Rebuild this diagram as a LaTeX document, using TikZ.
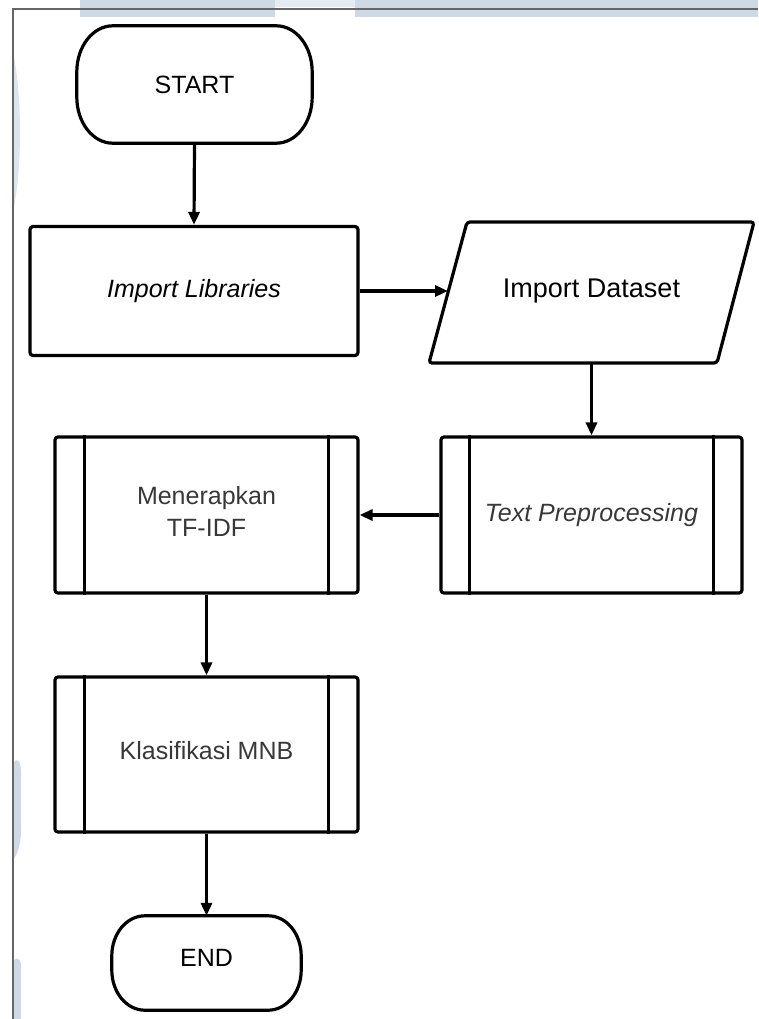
\documentclass[tikz,border=0pt]{standalone}
\usepackage{fontspec}
\setmainfont{Liberation Sans}
\usetikzlibrary{arrows.meta,calc}
\definecolor{wm}{HTML}{CDD9E5}
\definecolor{wmlight}{HTML}{E4EBF2}
\definecolor{txtgray}{HTML}{383838}
\newcommand{\termshape}[3]{% node, x radius, y radius
  \draw[lw] ([xshift=#2]#1.north west) -- ([xshift=-#2]#1.north east)
    arc[start angle=90, end angle=0, x radius=#2, y radius=#3]
    -- ([yshift=#3]#1.south east)
    arc[start angle=0, end angle=-90, x radius=#2, y radius=#3]
    -- ([xshift=#2]#1.south west)
    arc[start angle=270, end angle=180, x radius=#2, y radius=#3]
    -- ([yshift=-#3]#1.north west)
    arc[start angle=180, end angle=90, x radius=#2, y radius=#3] -- cycle;}
\begin{document}
\begin{tikzpicture}[x=1pt,y=-1pt,
  lw/.style={line width=3.2pt},
  proc/.style={draw=black, lw, rounded corners=3pt, inner sep=0pt, align=center,
    font=\fontsize{25}{32}\selectfont},
  lbl/.style={inner sep=0pt, align=center, font=\fontsize{25}{32}\selectfont},
  arr/.style={lw, -{Triangle[length=13pt,width=11pt]}},
  frameline/.style={draw=black!60, line width=1.2pt}]
\useasboundingbox (0,0) rectangle (758,1019);
% watermark background
\fill[wm] (80,0) rectangle (275,17);
\fill[wm] (355,0) rectangle (758,17);
\fill[wmlight] (275,0) rectangle (355,7);
\fill[wm!70] (14,57) .. controls (22,100) and (22,165) .. (14,207) -- cycle;
\fill[wm] (13,860) -- (13,768) .. controls (13,757) and (21,757) .. (21,772)
  -- (21,830) .. controls (21,845) and (17,855) .. (13,860) -- cycle;
\fill[wm] (13,1019) -- (13,966) .. controls (13,956) and (21,956) .. (21,966) -- (21,1019) -- cycle;
% frame
\draw[frameline] (13,1019) -- (13,9) -- (758,9);
% START
\node[lbl, minimum width=235pt, minimum height=117pt] (start) at (194.5,84.5) {START};
\termshape{start}{36pt}{46pt}
% Import Libraries
\node[proc, minimum width=328pt, minimum height=129pt] (lib) at (194,291) {\itshape Import Libraries};
% Import Dataset
\node[lbl, font=\fontsize{27}{32}\selectfont] (ds) at (591.5,291) {Import Dataset};
\draw[lw, rounded corners=3pt] ($(ds)+(-124.5,-69)$) -- ($(ds)+(162.5,-69)$)
  -- ($(ds)+(125.5,72)$) -- ($(ds)+(-162.5,72)$) -- cycle;
\coordinate (dsL) at ($(ds)+(-143.5,1)$);
\coordinate (dsB) at ($(ds)+(0,72)$);
% Text Preprocessing
\node[proc, text=txtgray, minimum width=301pt, minimum height=156pt] (tp) at (591.5,515) {\itshape Text Preprocessing};
\draw[lw] ([xshift=30pt]tp.north west) -- ([xshift=30pt]tp.south west);
\draw[lw] ([xshift=-30pt]tp.north east) -- ([xshift=-30pt]tp.south east);
% Menerapkan TF-IDF
\node[proc, minimum width=303pt, minimum height=156pt] (tf) at (206.5,515) {};
\node[lbl, text=txtgray] (tflabel) at (206.5,511.5) {Menerapkan\\TF-IDF};
\draw[lw] ([xshift=31pt]tf.north west) -- ([xshift=31pt]tf.south west);
\draw[lw] ([xshift=-31pt]tf.north east) -- ([xshift=-31pt]tf.south east);
% Klasifikasi MNB
\node[proc, text=txtgray, minimum width=303pt, minimum height=155pt] (kl) at (206.5,754.5) {\raisebox{3.5pt}[\height][\depth]{Klasifikasi MNB}};
\draw[lw] ([xshift=31pt]kl.north west) -- ([xshift=31pt]kl.south west);
\draw[lw] ([xshift=-31pt]kl.north east) -- ([xshift=-31pt]kl.south east);
% END
\node[lbl, minimum width=189pt, minimum height=94pt] (en) at (206.5,963) {\raisebox{5pt}[\height][\depth]{END}};
\termshape{en}{33pt}{40pt}
% connectors
\draw[arr] (start.south) -- (lib.north);
\draw[arr] (lib.east) -- (lib.east -| dsL);
\draw[arr] (dsB) -- (tp.north);
\draw[arr] (tp.west) -- (tf.east);
\draw[arr] (tf.south) -- (kl.north);
\draw[arr] (kl.south) -- (en.north);
\end{tikzpicture}
\end{document}
